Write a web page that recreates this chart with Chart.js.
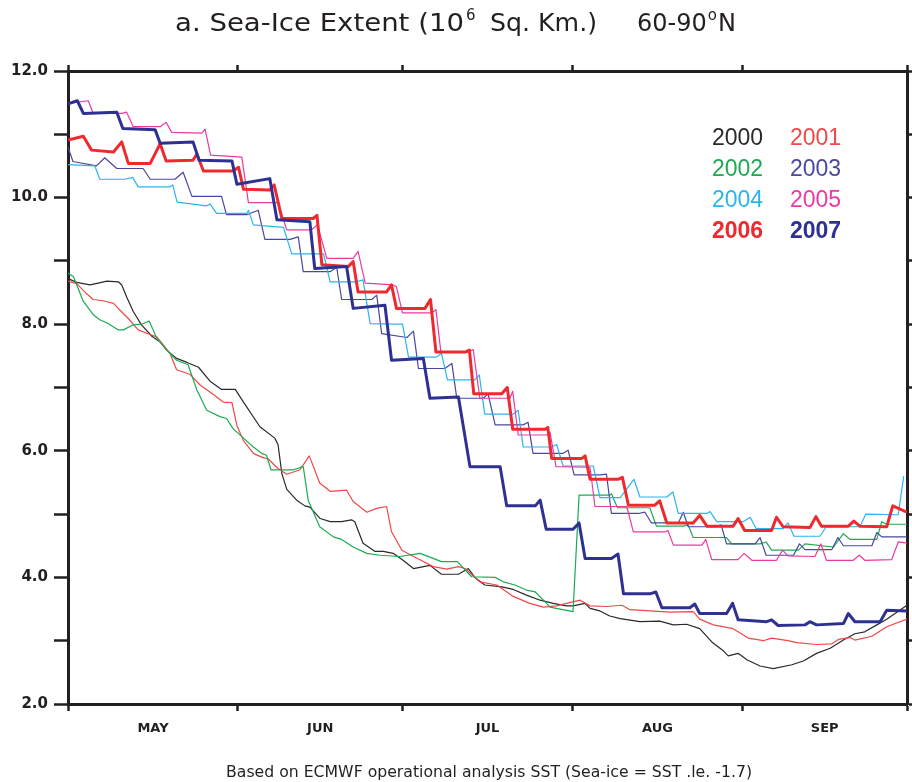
<!DOCTYPE html>
<html>
<head>
<meta charset="utf-8">
<script src="https://cdn.jsdelivr.net/npm/chart.js@4.4.1/dist/chart.umd.min.js"></script>
<style>
html, body { margin: 0; padding: 0; background: #fff; }
</style>
</head>
<body>
<canvas id="c" width="912" height="782"></canvas>
<script>
// days counted from 1 May (0) to 1 Oct (153)
const monthEdges = [0, 31, 61, 92, 123, 153];
const monthMids = [15.5, 46, 76.5, 107.5, 138];
const monthNames = ['MAY', 'JUN', 'JUL', 'AUG', 'SEP'];
const yTicks = [2, 3, 4, 5, 6, 7, 8, 9, 10, 11, 12];
const years = ['2000', '2001', '2002', '2003', '2004', '2005', '2006', '2007'];

// sea-ice extent (10^6 km2), [day, value]
const y2000 = [[0,8.72],[1.6,8.66],[4.0,8.62],[5.5,8.65],[7.1,8.68],[9.2,8.67],[9.8,8.62],[10.7,8.43],[11.9,8.20],[13.4,7.99],[15.3,7.81],[16.8,7.72],[18.0,7.59],[19.8,7.46],[21.6,7.40],[23.8,7.32],[25.9,7.10],[28.0,6.97],[30.5,6.97],[32.0,6.77],[35.0,6.38],[37.7,6.20],[38.3,6.10],[39.0,5.64],[39.9,5.39],[41.7,5.22],[43.2,5.13],[44.1,5.11],[46.0,4.93],[47.8,4.88],[49.9,4.88],[51.7,4.91],[52.3,4.88],[53.8,4.54],[56.0,4.41],[57.5,4.41],[59.3,4.38],[61.1,4.27],[63.0,4.14],[66.0,4.19],[68.1,4.05],[71.2,4.05],[73.0,4.14],[74.2,4.00],[76.0,3.88],[79.1,3.85],[81.2,3.81],[83.6,3.72],[86.1,3.64],[88.5,3.59],[90.9,3.55],[92.1,3.55],[94.3,3.59],[95.2,3.51],[97.0,3.47],[98.8,3.39],[100.7,3.35],[104.3,3.30],[107.9,3.31],[110.4,3.25],[112.8,3.26],[115.2,3.19],[117.4,2.98],[119.5,2.84],[120.4,2.76],[122.2,2.80],[123.8,2.70],[126.2,2.60],[128.6,2.56],[132.0,2.62],[134.1,2.68],[136.5,2.80],[139.0,2.88],[141.4,3.01],[143.5,3.11],[145.3,3.14],[147.5,3.25],[149.3,3.34],[153,3.56]];
const y2001 = [[0,8.68],[1.6,8.64],[3.4,8.48],[4.6,8.39],[6.4,8.37],[8.3,8.33],[9.5,8.22],[11.0,8.09],[12.8,7.91],[14.6,7.85],[16.2,7.80],[18.6,7.54],[19.8,7.28],[22.2,7.21],[24.1,7.04],[26.2,6.91],[28.3,6.77],[29.9,6.76],[30.8,6.40],[32.0,6.16],[33.8,5.96],[35.3,5.90],[36.5,5.87],[38.3,5.72],[39.9,5.63],[42.3,5.70],[44.0,5.92],[45.9,5.49],[47.8,5.36],[50.8,5.38],[52.0,5.20],[54.5,5.03],[56.3,5.09],[58.1,5.12],[59.0,4.72],[60.9,4.43],[63.0,4.33],[64.2,4.28],[66.6,4.17],[69.1,4.13],[71.2,4.17],[72.4,4.14],[75.1,3.93],[78.2,3.88],[81.2,3.70],[84.2,3.59],[86.7,3.53],[89.1,3.55],[90.9,3.59],[93.4,3.64],[95.2,3.55],[98.2,3.54],[101.0,3.56],[102.5,3.49],[106.1,3.47],[109.8,3.45],[114.0,3.46],[115.2,3.34],[117.7,3.25],[121.3,3.19],[124.1,3.04],[126.8,3.00],[128.3,3.04],[131.3,3.00],[132.9,2.97],[136.5,2.94],[139.3,2.95],[140.5,3.02],[142.6,3.05],[143.5,3.01],[146.6,3.07],[149.3,3.22],[153,3.34]];
const y2002 = [[0,8.81],[1.0,8.75],[2.8,8.36],[4.6,8.15],[5.8,8.07],[7.3,8.01],[9.2,7.91],[10.1,7.91],[11.9,7.99],[13.4,8.00],[14.8,8.05],[16.2,7.78],[18.0,7.59],[19.8,7.43],[21.9,7.36],[23.5,6.96],[25.3,6.64],[27.7,6.54],[28.9,6.51],[30.1,6.35],[32.0,6.20],[33.8,6.06],[35.3,5.96],[36.2,5.93],[37.0,5.70],[41.1,5.70],[42.9,5.75],[43.8,5.22],[45.9,4.80],[48.4,4.64],[49.9,4.60],[52.0,4.48],[54.5,4.38],[56.9,4.35],[60.5,4.33],[64.2,4.38],[66.0,4.32],[68.1,4.25],[71.0,4.25],[73.6,4.01],[77.9,4.00],[79.4,3.93],[81.5,3.88],[83.6,3.80],[85.2,3.77],[86.7,3.64],[87.9,3.53],[92.1,3.46],[93.2,5.30],[98.8,5.30],[99.1,5.32],[100.2,5.10],[106.1,5.10],[107.3,4.81],[112.2,4.81],[113.1,4.83],[114.0,4.63],[120.1,4.63],[121.0,4.53],[126.2,4.53],[127.3,4.56],[128.3,4.43],[133.2,4.43],[134.4,4.53],[139.6,4.48],[141.4,4.69],[142.6,4.60],[147.5,4.60],[148.4,4.88],[149.3,4.84],[153,4.84]];
const y2003 = [[0,10.80],[0.9,10.57],[5.2,10.50],[6.7,10.63],[8.9,10.46],[13.7,10.46],[15.0,10.29],[19.5,10.29],[21.0,10.40],[22.6,10.02],[28.0,10.02],[28.9,9.73],[32.6,9.73],[34.7,9.80],[35.9,9.34],[40.5,9.34],[42.0,9.38],[42.9,8.83],[47.8,8.83],[49.0,8.90],[49.9,8.39],[55.4,8.39],[56.3,8.46],[57.2,7.85],[61.8,7.79],[63.0,7.89],[63.9,7.30],[68.7,7.30],[70.0,7.38],[70.9,6.83],[75.7,6.83],[76.6,6.90],[77.9,6.41],[83.0,6.41],[83.9,6.45],[84.8,5.96],[90.3,5.96],[91.2,6.01],[92.3,5.62],[97.0,5.62],[98.2,5.63],[99.1,5.01],[104.0,5.01],[105.2,5.03],[106.4,4.86],[111.3,4.86],[112.2,5.03],[113.1,4.80],[118.3,4.80],[119.1,4.83],[120.1,4.53],[125.3,4.53],[126.2,4.63],[127.3,4.35],[132.3,4.35],[133.4,4.53],[134.4,4.44],[139.3,4.44],[140.4,4.63],[141.4,4.50],[146.6,4.50],[147.5,4.71],[148.4,4.64],[153,4.64]];
const y2004 = [[0,10.52],[4.9,10.50],[5.8,10.29],[10.4,10.29],[11.8,10.32],[12.8,10.17],[18.6,10.17],[19.1,10.20],[19.9,9.93],[25.3,9.87],[25.9,9.90],[27.1,9.75],[32.6,9.75],[32.9,9.80],[33.8,9.57],[39.3,9.53],[40.8,9.11],[46.6,9.11],[47.8,8.67],[52.6,8.67],[53.8,8.70],[55.1,8.01],[59.6,8.00],[61.0,8.00],[62.1,7.48],[67.2,7.48],[68.1,7.54],[69.2,7.12],[74.2,7.12],[75.0,7.20],[76.0,6.58],[81.2,6.58],[82.1,6.64],[83.0,6.06],[88.2,6.06],[89.1,6.10],[90.3,5.76],[95.8,5.76],[97.0,5.26],[100.7,5.26],[103.2,5.55],[104.3,5.27],[109.2,5.27],[110.3,5.35],[111.3,5.01],[116.5,5.01],[117.1,5.04],[118.3,4.88],[123.1,4.88],[124.4,4.95],[125.5,4.77],[130.4,4.77],[131.3,4.86],[132.4,4.65],[137.1,4.65],[138.3,4.80],[144.4,4.80],[145.5,5.00],[151.4,4.99],[152.4,5.60]];
const y2005 = [[0,11.49],[3.7,11.53],[4.6,11.33],[9.8,11.33],[10.7,11.35],[11.9,11.12],[16.8,11.12],[17.9,11.19],[18.9,11.03],[24.4,11.02],[25.0,11.08],[26.0,10.67],[31.7,10.64],[32.9,9.92],[38.3,9.92],[39.9,9.49],[44.4,9.49],[45.5,9.57],[47.2,9.04],[52.0,9.04],[52.9,9.15],[54.2,8.65],[59.3,8.62],[59.9,8.59],[61.0,8.18],[66.3,8.18],[67.1,8.23],[68.0,7.56],[73.0,7.56],[73.9,7.60],[75.1,6.83],[80.6,6.83],[81.1,6.94],[82.1,6.25],[87.3,6.25],[87.9,6.29],[89.0,5.75],[95.2,5.74],[96.1,5.12],[101.9,5.12],[103.1,4.72],[108.9,4.72],[109.4,4.74],[110.4,4.51],[115.6,4.51],[116.3,4.60],[117.4,4.28],[122.2,4.28],[123.3,4.38],[124.7,4.27],[129.2,4.27],[130.3,4.43],[131.3,4.34],[136.2,4.33],[137.3,4.53],[138.3,4.27],[143.2,4.27],[144.3,4.35],[145.3,4.27],[150.2,4.28],[151.4,4.56],[153,4.54]];
const y2006 = [[0,10.91],[2.8,10.97],[4.3,10.75],[8.3,10.72],[9.8,10.88],[11.0,10.54],[15.0,10.54],[16.8,10.85],[17.9,10.58],[22.8,10.59],[23.5,10.69],[24.7,10.42],[30.1,10.42],[31.1,10.48],[32.0,10.13],[36.8,10.12],[37.6,10.20],[39.0,9.67],[44.7,9.67],[45.4,9.72],[46.3,8.94],[51.1,8.91],[52.0,8.99],[52.9,8.51],[58.1,8.51],[59.0,8.62],[59.9,8.25],[65.1,8.25],[66.1,8.39],[67.1,7.56],[72.4,7.56],[73.2,7.59],[74.0,6.90],[79.1,6.90],[80.1,7.00],[81.1,6.34],[87.0,6.34],[87.5,6.37],[88.2,5.88],[93.7,5.88],[94.3,5.92],[95.2,5.55],[100.3,5.55],[101.1,5.58],[102.2,5.14],[107.0,5.14],[107.9,5.21],[109.2,4.86],[114.0,4.86],[115.2,4.98],[116.5,4.81],[121.3,4.81],[122.2,4.93],[123.4,4.74],[128.3,4.74],[129.2,4.95],[130.4,4.80],[135.3,4.79],[136.4,4.96],[137.4,4.81],[142.3,4.81],[143.3,4.89],[144.4,4.81],[149.3,4.80],[150.4,5.13],[153,5.03]];
const y2007 = [[0,11.48],[1.7,11.53],[2.8,11.33],[8.9,11.35],[10.0,11.09],[15.9,11.07],[16.8,10.86],[22.8,10.88],[23.9,10.59],[29.9,10.58],[30.8,10.21],[36.8,10.30],[38.1,9.65],[44.1,9.62],[45.0,8.88],[50.8,8.91],[52.0,8.25],[57.8,8.30],[59.0,7.43],[64.8,7.46],[66.0,6.83],[71.2,6.85],[73.3,5.75],[78.8,5.75],[80.0,5.13],[85.2,5.13],[86.1,5.22],[87.2,4.76],[92.1,4.76],[93.2,4.86],[94.3,4.30],[99.1,4.30],[100.3,4.37],[101.3,3.74],[106.1,3.74],[107.2,3.77],[108.3,3.52],[113.4,3.52],[114.3,3.58],[115.2,3.43],[120.1,3.43],[121.2,3.59],[122.2,3.33],[127.4,3.30],[128.3,3.33],[129.5,3.24],[134.4,3.25],[135.3,3.30],[136.5,3.25],[141.4,3.27],[142.3,3.43],[143.5,3.30],[148.1,3.30],[149.3,3.48],[153,3.47]];

const series = [y2000, y2001, y2002, y2003, y2004, y2005, y2006, y2007];
const colors = ['#2a2a2a', '#f04848', '#1aab52', '#4848a0', '#2ab5ec', '#ea3aa2', '#ee2a2e', '#2e3192'];
const widths = [1.2, 1.2, 1.2, 1.2, 1.2, 1.2, 3, 3];
const orders = [7, 6, 5, 4, 3, 2, 1, 0];

const INK = '#231f20';

const datasets = series.map((s, i) => ({
  label: years[i],
  data: s.map(p => ({ x: p[0], y: p[1] })),
  borderColor: colors[i],
  borderWidth: widths[i],
  pointRadius: 0,
  tension: 0,
  fill: false,
  order: orders[i],
  borderJoinStyle: 'round'
}));

// draw text stretched horizontally to a given width
function wideText(ctx, text, x, y, w) {
  const nat = ctx.measureText(text).width;
  ctx.save();
  ctx.translate(x, y);
  ctx.scale(w / nat, 1);
  ctx.fillText(text, 0, 0);
  ctx.restore();
}

const textPlugin = {
  id: 'texts',
  afterDraw(chart) {
    const ctx = chart.ctx;
    ctx.save();
    ctx.fillStyle = INK;
    ctx.textBaseline = 'alphabetic';
    ctx.textAlign = 'left';

    // title
    const big = '24px "DejaVu Sans"';
    const small = '15px "DejaVu Sans"';
    const base = 31;
    ctx.font = big;
    wideText(ctx, 'a. Sea-Ice Extent (10', 175, base, 289);
    ctx.font = small;
    ctx.fillText('6', 466, base - 11);
    ctx.font = big;
    wideText(ctx, 'Sq. Km.)', 490, base, 107);
    let x = 637;
    let t = '60-90';
    ctx.fillText(t, x, base); x += ctx.measureText(t).width;
    ctx.font = small;
    ctx.fillText('o', x + 1, base - 11); x += ctx.measureText('o').width + 2;
    ctx.font = big;
    ctx.fillText('N', x, base);

    // footer
    ctx.font = '15px "DejaVu Sans"';
    wideText(ctx, 'Based on ECMWF operational analysis SST (Sea-ice = SST .le. -1.7)', 226, 777, 526);

    // legend
    ctx.textBaseline = 'middle';
    const colX = [712, 790];
    const rowY = [139, 170, 201, 232];
    years.forEach((yr, i) => {
      const bold = i >= 6;
      ctx.font = (bold ? 'bold ' : '') + '23px "Liberation Sans"';
      ctx.fillStyle = colors[i];
      ctx.fillText(yr, colX[i % 2], rowY[Math.floor(i / 2)]);
    });
    ctx.restore();
  }
};

new Chart(document.getElementById('c'), {
  type: 'line',
  data: { datasets },
  options: {
    responsive: false,
    animation: false,
    layout: { padding: 0 },
    plugins: { legend: { display: false }, tooltip: { enabled: false }, title: { display: false } },
    scales: {
      x: {
        type: 'linear', position: 'bottom', min: 0, max: 153,
        afterBuildTicks: s => { s.ticks = monthEdges.concat(monthMids).map(v => ({ value: v })); },
        afterFit: s => { s.height = 78; },
        ticks: {
          autoSkip: false, maxRotation: 0, padding: 10, color: INK,
          font: { family: 'DejaVu Sans', weight: 'bold', size: 13 },
          callback: v => { const i = monthMids.indexOf(v); return i >= 0 ? monthNames[i] : ''; }
        },
        grid: {
          drawOnChartArea: false, drawTicks: true, tickLength: 7, tickWidth: 2.5,
          tickColor: c => (c.tick && monthEdges.includes(c.tick.value)) ? INK : 'rgba(0,0,0,0)'
        },
        border: { display: true, color: INK, width: 3 }
      },
      x2: {
        type: 'linear', position: 'top', min: 0, max: 153,
        afterBuildTicks: s => { s.ticks = monthEdges.map(v => ({ value: v })); },
        afterFit: s => { s.height = 71; },
        ticks: { display: false },
        grid: { drawOnChartArea: false, drawTicks: true, tickLength: 6, tickWidth: 2.5, tickColor: INK },
        border: { display: true, color: INK, width: 3 }
      },
      y: {
        type: 'linear', position: 'left', min: 2, max: 12,
        afterBuildTicks: s => { s.ticks = yTicks.map(v => ({ value: v })); },
        afterFit: s => { s.width = 68; },
        ticks: {
          padding: 6, color: INK,
          font: { family: 'DejaVu Sans', weight: 'bold', size: 15 },
          callback: v => (v % 2 === 0 ? v.toFixed(1) : '')
        },
        grid: { drawOnChartArea: false, drawTicks: true, tickLength: 14, tickWidth: 2.5, tickColor: INK },
        border: { display: true, color: INK, width: 3 }
      },
      y2: {
        type: 'linear', position: 'right', min: 2, max: 12,
        afterBuildTicks: s => { s.ticks = yTicks.map(v => ({ value: v })); },
        afterFit: s => { s.width = 5; },
        ticks: { display: false },
        grid: { drawOnChartArea: false, drawTicks: true, tickLength: 5, tickWidth: 2.5, tickColor: INK },
        border: { display: true, color: INK, width: 3 }
      }
    }
  },
  plugins: [textPlugin]
});
</script>
</body>
</html>
